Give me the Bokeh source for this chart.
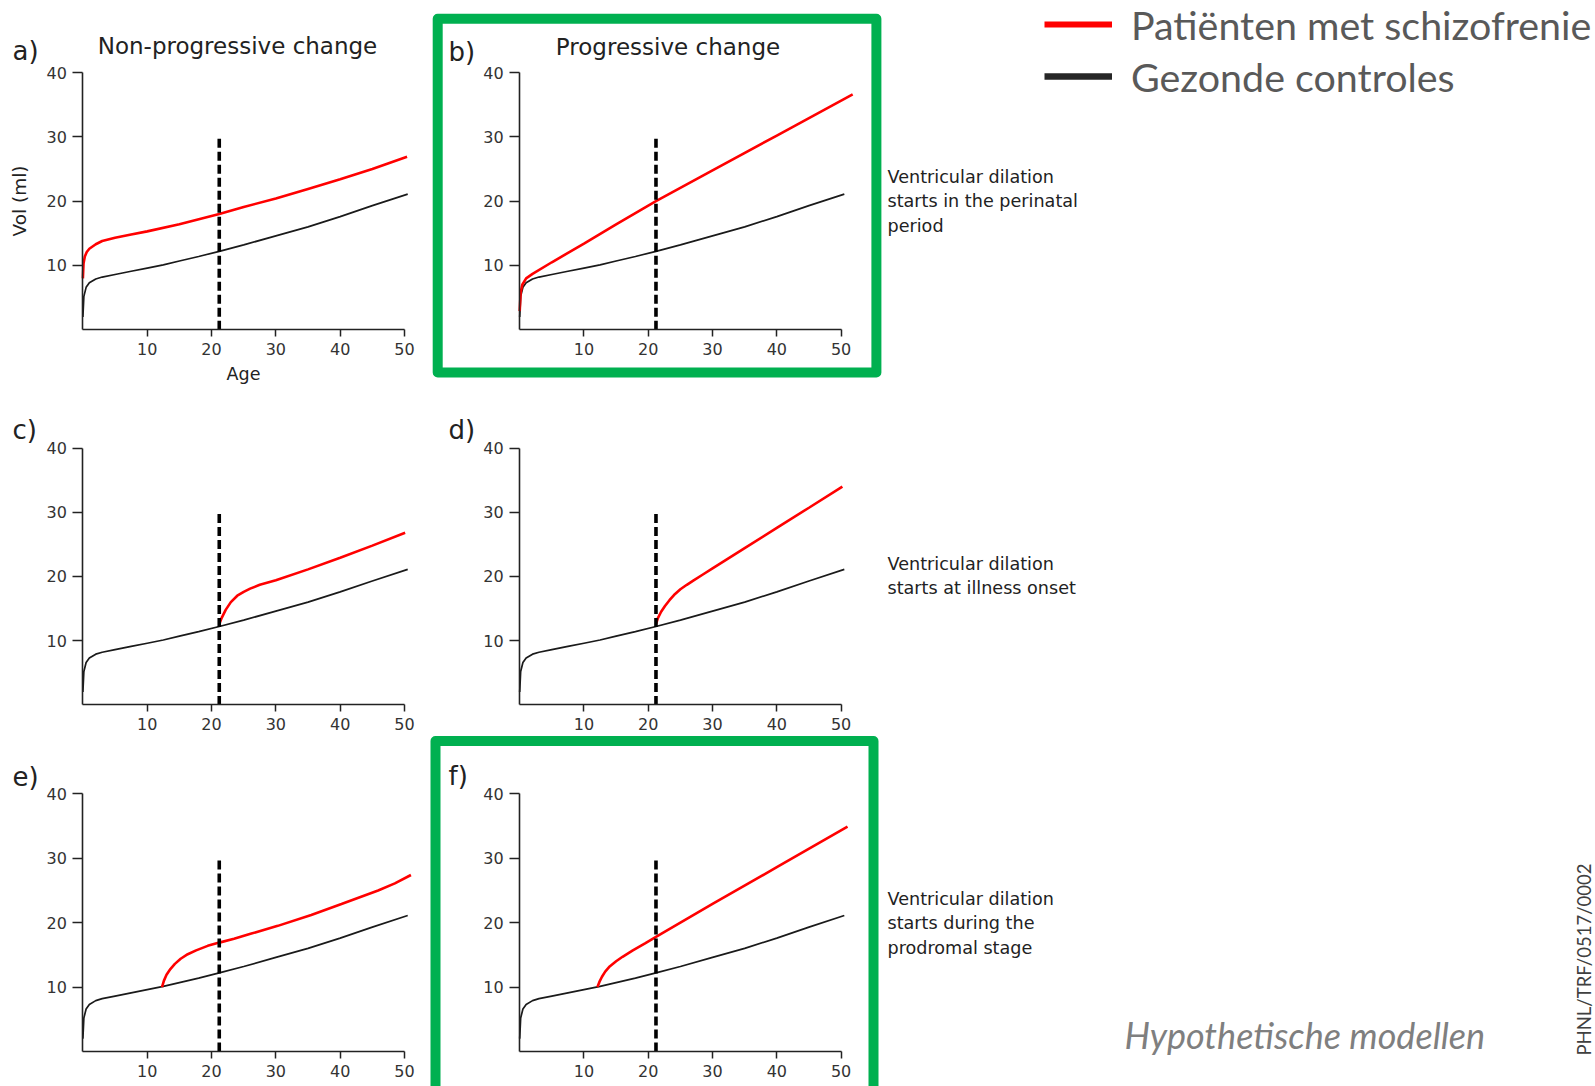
from math import pi

from bokeh.core.properties import value
from bokeh.embed import file_html
from bokeh.models import FixedTicker, Legend, LegendItem, LinearAxis, Range1d
from bokeh.plotting import figure
from bokeh.resources import INLINE

# ---------------------------------------------------------------------------
# Data: lateral ventricle volume (ml) against age (years)
# ---------------------------------------------------------------------------
onset_age = 21.2          # age at illness onset (dashed marker)
onset_marker_top = 30     # the marker runs from 0 to this volume

# healthy controls (identical in every panel)
age_control = [0, 0.15, 0.5, 1, 2, 3, 5, 7.5, 10, 12.5, 15, 18, 21.2, 25, 30, 35, 40, 45, 50.5]
vol_control = [2.0, 5.2, 6.6, 7.3, 7.9, 8.2, 8.6, 9.1, 9.6, 10.1, 10.7, 11.4, 12.2, 13.2, 14.6, 16.0, 17.6, 19.3, 21.1]

# a) perinatal start, non-progressive
age_a = [0, 0.1, 0.3, 0.6, 1, 2, 3, 5, 7.5, 10, 15, 21.2, 25, 30, 35, 40, 45, 50.4]
vol_a = [8.0, 10.3, 11.4, 12.1, 12.6, 13.3, 13.8, 14.3, 14.8, 15.3, 16.4, 18.0, 19.1, 20.4, 21.9, 23.4, 25.0, 26.9]

# b) perinatal start, progressive
age_b = [0, 0.15, 0.4, 1, 2, 5, 10, 15, 21.2, 30, 40, 51.8]
vol_b = [2.9, 5.8, 7.0, 8.0, 8.7, 10.5, 13.4, 16.4, 20.0, 24.8, 30.2, 36.6]

# c) start at illness onset, non-progressive
age_c = [21.2, 21.6, 22.2, 23, 24, 25, 26, 27.5, 30, 35, 40, 45, 50.1]
vol_c = [12.6, 13.6, 14.8, 16.0, 17.0, 17.6, 18.1, 18.7, 19.4, 21.1, 22.9, 24.8, 26.8]

# d) start at illness onset, progressive
age_d = [21.2, 21.5, 22, 22.6, 23.3, 24, 25, 26, 27, 28.5, 30, 35, 40, 45, 50.2]
vol_d = [12.6, 13.5, 14.5, 15.4, 16.3, 17.1, 18.0, 18.7, 19.35, 20.3, 21.25, 24.4, 27.55, 30.7, 34.0]

# e) start in the prodromal stage, non-progressive
age_e = [12.3, 12.6, 13.0, 13.6, 14.3, 15.2, 16.3, 17.6, 19.4, 21.2, 23.5, 26.2, 30.3, 35.5, 40.2, 45.9, 48.5, 51.0]
vol_e = [10.0, 11.0, 11.9, 12.8, 13.6, 14.4, 15.1, 15.7, 16.4, 16.9, 17.5, 18.3, 19.5, 21.2, 22.9, 25.0, 26.1, 27.4]

# f) start in the prodromal stage, progressive
age_f = [12.1, 12.4, 12.8, 13.3, 14, 15, 16, 17.6, 19.5, 21.2, 30, 40, 51.0]
vol_f = [10.0, 10.8, 11.6, 12.4, 13.2, 14.0, 14.7, 15.7, 16.8, 17.8, 22.9, 28.6, 34.9]

panel_letters = ["a)", "b)", "c)", "d)", "e)", "f)"]
panel_titles = ["Non-progressive change", "Progressive change"]
patient_series = [(age_a, vol_a), (age_b, vol_b), (age_c, vol_c),
                  (age_d, vol_d), (age_e, vol_e), (age_f, vol_f)]

x_ticks = [10, 20, 30, 40, 50]
y_ticks = [10, 20, 30, 40]
x_label = "Age"
y_label = "Vol (ml)"

legend_labels = ["Patiënten met schizofrenie", "Gezonde controles"]
row_notes = [
    ["Ventricular dilation", "starts in the perinatal", "period"],
    ["Ventricular dilation", "starts at illness onset"],
    ["Ventricular dilation", "starts during the", "prodromal stage"],
]
footer_text = "Hypothetische modellen"
doc_code = "PHNL/TRF/0517/0002"

# ---------------------------------------------------------------------------
# Page layout (pixels, origin top-left)
# ---------------------------------------------------------------------------
W, H = 1595, 1086
COL_X = [(82.4, 404.0), (519.2, 840.6)]                      # age 0 / age 50
ROW_Y = [(329.3, 72.0), (704.4, 447.5), (1051.0, 793.3)]     # vol 0 / vol 40

RED = "#ff0000"
BLACK = "#1a1a1a"
GREEN = "#00b050"
FIG_TEXT = "#222222"
FONT = "DejaVu Sans"
SLIDE_FONT = "Lato"

p = figure(width=W, height=H, output_backend="svg", toolbar_location=None,
           x_range=Range1d(0, W), y_range=Range1d(H, 0),
           x_axis_location=None, y_axis_location=None,
           min_border=0, outline_line_color=None,
           background_fill_color="white", border_fill_color="white")
p.grid.visible = False

for i, (ages, vols) in enumerate(patient_series):
    row, col = divmod(i, 2)
    x0, x50 = COL_X[col]
    y0, y40 = ROW_Y[row]
    kx = (x50 - x0) / 50.0
    ky = (y0 - y40) / 40.0
    xn, yn = f"age{i}", f"vol{i}"
    p.extra_x_ranges[xn] = Range1d(-x0 / kx, (W - x0) / kx)
    p.extra_y_ranges[yn] = Range1d((y0 - H) / ky, y0 / ky)

    xax = LinearAxis(x_range_name=xn, y_range_name=yn, fixed_location=0, bounds=(0, 50),
                     ticker=FixedTicker(ticks=x_ticks))
    yax = LinearAxis(x_range_name=xn, y_range_name=yn, fixed_location=0, bounds=(0, 40),
                     ticker=FixedTicker(ticks=y_ticks))
    for ax, tick_len, standoff in ((xax, 7, 6), (yax, 10, 6)):
        ax.axis_line_color = FIG_TEXT
        ax.axis_line_width = 1.6
        ax.major_tick_line_color = FIG_TEXT
        ax.major_tick_line_width = 1.5
        ax.major_tick_out = tick_len
        ax.major_tick_in = 0
        ax.minor_tick_out = 0
        ax.minor_tick_in = 0
        ax.major_label_standoff = standoff
        ax.major_label_text_font = FONT
        ax.major_label_text_font_size = "16px"
        ax.major_label_text_color = "#333333"
        ax.axis_label_text_font = FONT
        ax.axis_label_text_font_style = "normal"
        ax.axis_label_text_color = FIG_TEXT
    if i == 0:
        xax.axis_label = x_label
        xax.axis_label_standoff = 6
        xax.axis_label_text_font_size = "17.5px"
        yax.axis_label = y_label
        yax.axis_label_standoff = 13
        yax.axis_label_text_font_size = "18.5px"
    p.add_layout(xax, "below")
    p.add_layout(yax, "left")

    # healthy controls, patients, and the illness-onset marker
    p.line(age_control, vol_control, x_range_name=xn, y_range_name=yn,
           line_color=BLACK, line_width=1.7)
    p.line(ages, vols, x_range_name=xn, y_range_name=yn,
           line_color=RED, line_width=2.6)
    p.segment(x0=[onset_age], y0=[0], x1=[onset_age], y1=[onset_marker_top],
              x_range_name=xn, y_range_name=yn,
              line_color="black", line_width=3.6, line_dash="9 4")

# panel letters and titles
letter_x = [12, 448, 12, 448, 12, 448]
letter_y = [50.5, 51, 429, 429, 776, 775]
p.text(x=letter_x, y=letter_y, text=panel_letters, text_font=value(FONT),
       text_font_size="26px", text_color=FIG_TEXT, text_baseline="middle")
p.text(x=[237, 667.5], y=[45, 46], text=panel_titles, text_font=value(FONT),
       text_font_size="23px", text_color=FIG_TEXT, text_align="center",
       text_baseline="middle")

# notes to the right of each row
note_first_center = [176.5, 563, 898.2]
note_step = 24.4
for first, lines in zip(note_first_center, row_notes):
    p.text(x=[887] * len(lines), y=[first + k * note_step for k in range(len(lines))],
           text=lines, text_font=value(FONT), text_font_size="17.6px",
           text_color=FIG_TEXT, text_baseline="middle")

# highlighted panels (b and f)
p.quad(left=[437.2, 435], right=[875.9, 873], top=[18.2, 740.5], bottom=[371.9, 1100],
       fill_color=None, line_color=GREEN, line_width=10, line_join="round")

# legend (its renderers hold a single empty point so that only the key is drawn)
nan = float("nan")
legend_red = p.line(x=[nan], y=[nan], line_color=RED, line_width=6)
legend_black = p.line(x=[nan], y=[nan], line_color="#262626", line_width=6.5)
legend = Legend(items=[LegendItem(label=legend_labels[0], renderers=[legend_red]),
                       LegendItem(label=legend_labels[1], renderers=[legend_black])],
                location=(1044, H - 100), orientation="vertical",
                padding=0, margin=0, spacing=4, glyph_width=68, glyph_height=48,
                label_height=48, label_standoff=19,
                label_text_font=SLIDE_FONT, label_text_font_size="39.4px",
                label_text_color="#595959",
                border_line_alpha=0, background_fill_alpha=0)
p.add_layout(legend)

# footer note and document code
p.text(x=[1124], y=[1034], text=[footer_text], text_font=value(SLIDE_FONT),
       text_font_style="italic", text_font_size="36px", text_color="#7f7f7f",
       text_baseline="middle")
p.text(x=[1583.5], y=[1055], text=[doc_code], angle=pi / 2, text_font=value(SLIDE_FONT),
       text_font_size="18.5px", text_color="#404040", text_baseline="middle",
       text_align="left")

open("out.html", "w").write(file_html(p, INLINE))
